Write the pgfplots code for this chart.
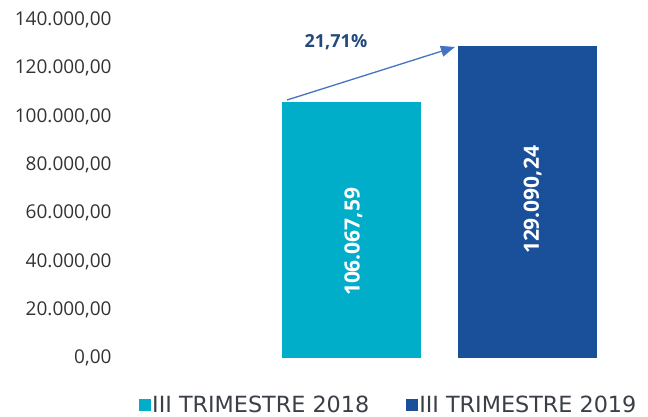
\documentclass[border=0pt]{standalone}
\usepackage{pgfplots}
\pgfplotsset{compat=1.18}
\usepackage{fontspec}
\usetikzlibrary{arrows.meta}
\setmainfont{Open Sans}
\newfontfamily\legfont{DejaVu Sans}
\definecolor{cyanbar}{HTML}{00AECA}
\definecolor{bluebar}{HTML}{1A4F9A}
\definecolor{ticktxt}{HTML}{333333}
\definecolor{legtxt}{HTML}{3A3F48}
\definecolor{pcttxt}{HTML}{23497A}
\definecolor{arrowc}{HTML}{4472C4}
\begin{document}
\begin{tikzpicture}
\useasboundingbox (-120bp,-59bp) rectangle (528bp,358bp);
\begin{axis}[
  at={(0,0)}, anchor=south west,
  scale only axis, width=525bp, height=338bp,
  xmin=-1.315, xmax=1.668, ymin=0, ymax=140000,
  axis line style={draw=none}, major tick length=0pt,
  xtick=\empty,
  ytick={0,20000,40000,60000,80000,100000,120000,140000},
  scaled ticks=false,
  /pgf/number format/.cd, fixed, fixed zerofill, precision=2, use comma, 1000 sep={.}, assume math mode=true,
  /pgfplots/.cd,
  yticklabel style={font=\fontsize{19bp}{21bp}\selectfont, text=ticktxt, xshift=-5bp},
  ybar, bar shift=0pt, bar width=0.79,
  clip=false,
  legend columns=2,
  legend style={draw=none, fill=none, at={(0.511,-0.139)}, anchor=center,
    font=\legfont\fontsize{22.3bp}{24bp}\selectfont, text=legtxt,
    /tikz/every even column/.append style={column sep=36bp},
    inner sep=0pt, nodes={inner xsep=1bp}},
  legend image code/.code={\fill[#1] (0bp,-6bp) rectangle (12bp,6bp);},
]
\addplot[fill=cyanbar, draw=none] coordinates {(0,106067.59)};
\addlegendentry{III TRIMESTRE 2018}
\addplot[fill=bluebar, draw=none] coordinates {(1,129090.24)};
\addlegendentry{III TRIMESTRE 2019}
\draw[arrowc, line width=1.3bp, -{Triangle[length=14bp,width=11bp]}] (axis cs:-0.366,106864) -- (axis cs:0.588,128817);
\node[font=\bfseries\fontsize{18bp}{20bp}\selectfont, text=pcttxt] at (axis cs:-0.088,130888) {21,71\%};
\node[rotate=90, font=\bfseries\fontsize{21bp}{23bp}\selectfont, text=white] at (axis cs:0.011,48047) {106.067,59};
\node[rotate=90, font=\bfseries\fontsize{21bp}{23bp}\selectfont, text=white] at (axis cs:1.03,65444) {129.090,24};
\end{axis}
\end{tikzpicture}
\end{document}
